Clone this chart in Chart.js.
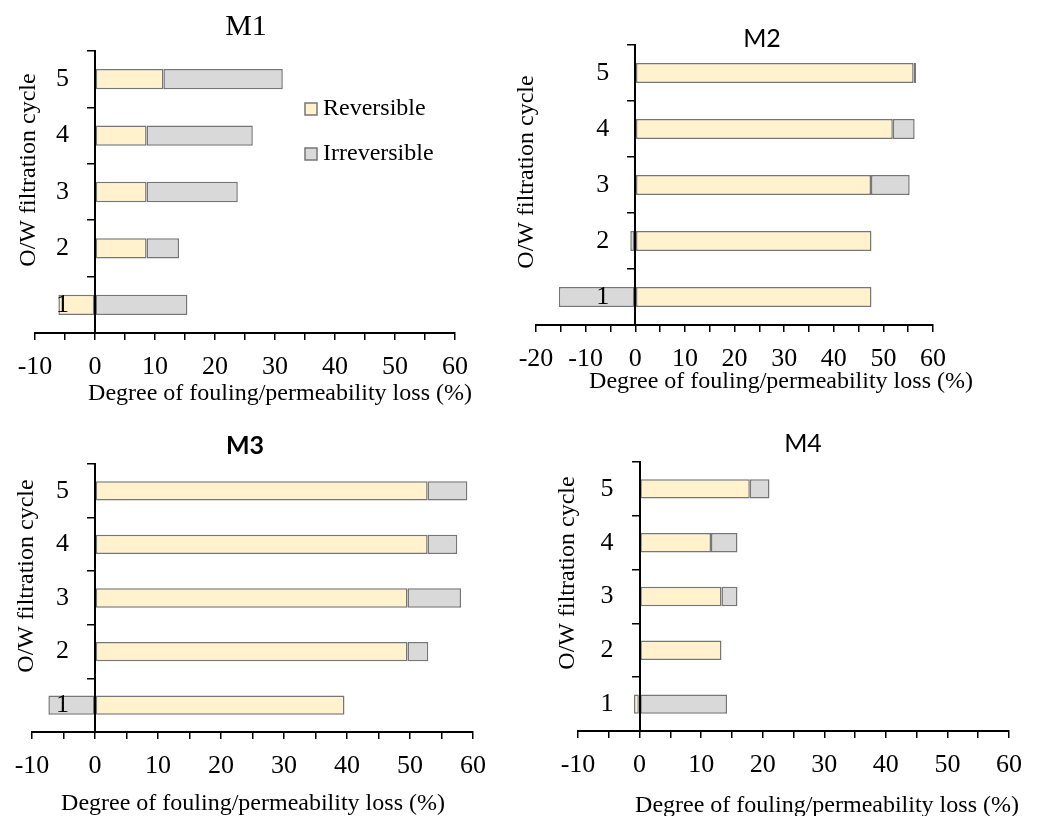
<!DOCTYPE html>
<html>
<head>
<meta charset="utf-8">
<script src="https://cdn.jsdelivr.net/npm/chart.js@4.4.0/dist/chart.umd.min.js"></script>
<style>
  html, body { margin: 0; padding: 0; background: #fff; }
  #wrap { position: relative; width: 1037px; height: 816px; overflow: hidden; }
  #wrap canvas { position: absolute; left: 0; top: 0; }
</style>
</head>
<body>
<div id="wrap">
  <canvas id="m1" width="1037" height="816"></canvas>
  <canvas id="m2" width="1037" height="816"></canvas>
  <canvas id="m3" width="1037" height="816"></canvas>
  <canvas id="m4" width="1037" height="816"></canvas>
</div>
<script>
// cycles 1..5, values in %
const cycles = ['1', '2', '3', '4', '5'];

const m1Reversible   = [-6.1, 8.6, 8.6, 8.6, 11.4];
const m1Irreversible = [15.4, 5.4, 15.2, 17.7, 19.9];

const m2Reversible   = [47.6, 47.6, 47.5, 51.9, 56.1];
const m2Irreversible = [-15.4, -1.0, 7.8, 4.4, 0.5];

const m3Reversible   = [39.6, 49.6, 49.6, 52.8, 52.8];
const m3Irreversible = [-7.4, 3.3, 8.5, 4.7, 6.3];

const m4Reversible   = [-0.9, 13.3, 13.3, 11.6, 17.9];
const m4Irreversible = [14.2, 0, 2.6, 4.3, 3.2];

const seriesNames = ['Reversible', 'Irreversible'];
const xTitle = 'Degree of fouling/permeability loss (%)';
const yTitle = 'O/W filtration cycle';

const reversibleFill = '#FFF2CC';
const irreversibleFill = '#D9D9D9';
const barEdge = '#767676';
const serif = '"Liberation Serif", "Times New Roman", serif';
const sans = 'Lato, "Open Sans", sans-serif';
const W = 1037, H = 816;
const X_AXIS_H = 60;
const LABEL_GAP = 26; // px between the value axis line and the cycle numbers

// draws panel titles, axis titles and the legend straight on the canvas
const panelText = {
    id: 'panelText',
    afterDraw(chart, args, opts) {
        const ctx = chart.ctx;
        (opts.items || []).forEach(t => {
            ctx.save();
            ctx.font = t.font;
            ctx.fillStyle = '#000';
            ctx.textAlign = 'center';
            ctx.textBaseline = 'alphabetic';
            ctx.translate(t.x, t.y);
            if (t.rotate) ctx.rotate(-Math.PI / 2);
            ctx.fillText(t.text, 0, 0);
            ctx.restore();
        });
        if (opts.legend) {
            const lg = opts.legend;
            chart.data.datasets.forEach((ds, i) => {
                const y = lg.y + i * lg.gap;
                ctx.save();
                ctx.fillStyle = ds.backgroundColor;
                ctx.strokeStyle = ds.borderColor;
                ctx.lineWidth = 1.5;
                ctx.fillRect(lg.x, y - 6, 12, 12);
                ctx.strokeRect(lg.x, y - 6, 12, 12);
                ctx.fillStyle = '#000';
                ctx.font = '24px ' + serif;
                ctx.textAlign = 'left';
                ctx.textBaseline = 'middle';
                ctx.fillText(ds.label, lg.x + 18, y);
                ctx.restore();
            });
        }
    }
};

function buildPanel(id, rev, irr, xMin, area, texts, legend) {
    // the cycle numbers sit a fixed pixel distance left of the x = 0 line
    const pxPerUnit = (area.right - area.left) / (60 - xMin);
    const labelAt = -LABEL_GAP / pxPerUnit;
    return new Chart(document.getElementById(id), {
        type: 'bar',
        data: {
            labels: cycles,
            datasets: [
                { label: seriesNames[0], data: rev, yAxisID: 'y', backgroundColor: reversibleFill,
                  borderColor: barEdge, borderWidth: 1.5, borderSkipped: false },
                { label: seriesNames[1], data: irr, yAxisID: 'y', backgroundColor: irreversibleFill,
                  borderColor: barEdge, borderWidth: 1.5, borderSkipped: false }
            ]
        },
        options: {
            indexAxis: 'y',
            responsive: false,
            animation: false,
            devicePixelRatio: 1,
            layout: {
                padding: { left: area.left, top: area.top, right: W - area.right, bottom: H - area.bottom - X_AXIS_H }
            },
            datasets: { bar: { barPercentage: 0.36, categoryPercentage: 1 } },
            scales: {
                x: {
                    stacked: true,
                    min: xMin,
                    max: 60,
                    ticks: {
                        stepSize: 5,
                        autoSkip: false,
                        maxRotation: 0,
                        padding: 12,
                        color: '#000',
                        font: { family: serif, size: 26 },
                        callback: v => (v % 10 === 0 ? v : '')
                    },
                    grid: { drawOnChartArea: false, tickLength: 7, color: '#000', lineWidth: 1.5 },
                    border: { color: '#000', width: 2 },
                    afterFit: s => { s.height = X_AXIS_H; }
                },
                y: {
                    stacked: true,
                    reverse: true,
                    position: { x: 0 },
                    ticks: { display: false },
                    grid: { drawOnChartArea: false, tickLength: 7, color: '#000', lineWidth: 1.5, z: 1 },
                    border: { color: '#000', width: 2, z: 1 }
                },
                yLabels: {
                    type: 'category',
                    axis: 'y',
                    reverse: true,
                    offset: true,
                    position: { x: labelAt },
                    grid: { display: false },
                    border: { display: false },
                    ticks: { padding: 0, color: '#000', font: { family: serif, size: 26 }, z: 1 }
                }
            },
            plugins: {
                legend: { display: false },
                tooltip: { enabled: false },
                panelText: { items: texts, legend: legend }
            }
        },
        plugins: [panelText]
    });
}

buildPanel('m1', m1Reversible, m1Irreversible, -10,
    { left: 35, top: 51, right: 455, bottom: 333 },
    [
        { text: 'M1', x: 246, y: 35, font: '30px ' + serif },
        { text: yTitle, x: 35, y: 170, rotate: true, font: '24px ' + serif },
        { text: xTitle, x: 280, y: 400, font: '24px ' + serif }
    ],
    { x: 305, y: 109, gap: 45 });

buildPanel('m2', m2Reversible, m2Irreversible, -20,
    { left: 536, top: 45, right: 933, bottom: 325 },
    [
        { text: 'M2', x: 762, y: 47, font: '25px ' + sans },
        { text: yTitle, x: 533, y: 172, rotate: true, font: '24px ' + serif },
        { text: xTitle, x: 781, y: 388, font: '24px ' + serif }
    ]);

buildPanel('m3', m3Reversible, m3Irreversible, -10,
    { left: 32, top: 464, right: 473, bottom: 732 },
    [
        { text: 'M3', x: 245, y: 454, font: 'bold 25px ' + sans },
        { text: yTitle, x: 33, y: 576, rotate: true, font: '24px ' + serif },
        { text: xTitle, x: 253, y: 810, font: '24px ' + serif }
    ]);

buildPanel('m4', m4Reversible, m4Irreversible, -10,
    { left: 578, top: 462, right: 1009, bottom: 731 },
    [
        { text: 'M4', x: 803, y: 452, font: '25px ' + sans },
        { text: yTitle, x: 574, y: 573, rotate: true, font: '24px ' + serif },
        { text: xTitle, x: 827, y: 812, font: '24px ' + serif }
    ]);
</script>
</body>
</html>
